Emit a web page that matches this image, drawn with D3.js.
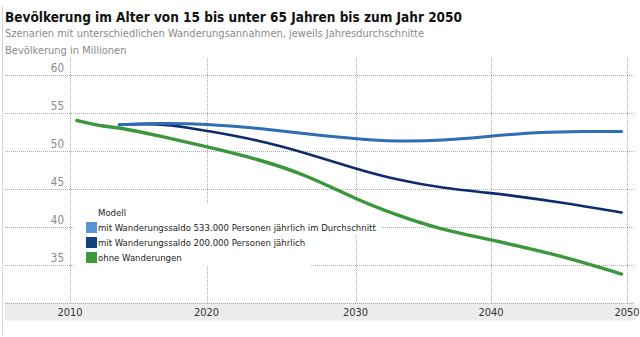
<!DOCTYPE html>
<html>
<head>
<meta charset="utf-8">
<script src="https://cdn.jsdelivr.net/npm/d3@7"></script>
<style>
  body { margin: 0; background: #fff; }
  svg { display: block; font-family: "DejaVu Sans Condensed", "DejaVu Sans", Verdana, sans-serif; font-stretch: condensed; }
</style>
</head>
<body>
<div id="plot"></div>
<script>
const yearsHigh = [2013.6, 2016.5, 2020, 2023.4, 2026.7, 2030, 2033, 2036.4, 2040, 2043.1, 2045.6, 2049.6];
const valuesHigh = [53.38, 53.6, 53.5, 52.95, 52.2, 51.54, 51.18, 51.3, 51.9, 52.37, 52.5, 52.5];

const yearsLow = [2013.6, 2016.5, 2018.8, 2020, 2023.4, 2026.7, 2030, 2033, 2036.4, 2040, 2041.4, 2045.1, 2049.6];
const valuesLow = [53.38, 53.58, 52.95, 52.6, 51.4, 49.66, 47.6, 46.15, 45.05, 44.4, 44.1, 43.2, 41.84];

const yearsNone = [2010.5, 2012.6, 2013.7, 2016.6, 2020, 2023.4, 2026.7, 2030, 2033, 2035.9, 2040, 2045.1, 2049.6];
const valuesNone = [53.95, 53.1, 53.0, 51.9, 50.5, 48.9, 46.8, 43.6, 41.54, 39.8, 38.25, 36.2, 33.74];

const seriesNames = [
  "mit Wanderungssaldo 533.000 Personen jährlich im Durchschnitt",
  "mit Wanderungssaldo 200.000 Personen jährlich",
  "ohne Wanderungen"
];
const lineColors = ["#2f6db6", "#0c2c6b", "#3b973b"];
const swatchColors = ["#5596d6", "#10427f", "#3a9a3c"];
const lineWidths = [3, 2.6, 3.4];

const xTicks = [2010, 2020, 2030, 2040, 2050];
const yTicks = [35, 40, 45, 50, 55, 60];

const width = 640, height = 337;

const svg = d3.select("#plot").append("svg")
  .attr("width", width)
  .attr("height", height);

// x-Achse: Abstände der Jahrzehnte wie im Original
const x = d3.scaleLinear()
  .domain(xTicks)
  .range([70, 206.5, 355.5, 491, 627]);

const y = d3.scaleLinear()
  .domain([30, 60])
  .range([302.5, 74.5]);

const plotTop = 58, plotLeft = 5, plotRight = 635;

// Rahmen links
svg.append("line")
  .attr("x1", 2.5).attr("x2", 2.5)
  .attr("y1", 6).attr("y2", 335)
  .attr("stroke", "#d4d4d4");

// Titel
svg.append("text")
  .attr("x", 5).attr("y", 22)
  .attr("font-size", 13.5).attr("font-weight", "bold")
  .attr("fill", "#111")
  .text("Bevölkerung im Alter von 15 bis unter 65 Jahren bis zum Jahr 2050");

svg.append("text")
  .attr("x", 5).attr("y", 36.5)
  .attr("font-size", 11)
  .attr("fill", "#8a8a8a")
  .text("Szenarien mit unterschiedlichen Wanderungsannahmen, jeweils Jahresdurchschnitte");

svg.append("text")
  .attr("x", 5).attr("y", 53.5)
  .attr("font-size", 11)
  .attr("fill", "#8a8a8a")
  .text("Bevölkerung in Millionen");

// x-Achsenband
svg.append("rect")
  .attr("x", plotLeft).attr("y", y(30))
  .attr("width", plotRight - plotLeft).attr("height", 18)
  .attr("fill", "#ececec");

// Gitter
svg.append("g")
  .selectAll("line")
  .data(yTicks.concat([30]))
  .enter().append("line")
  .attr("x1", plotLeft).attr("x2", plotRight)
  .attr("y1", d => Math.round(y(d)) + 0.5)
  .attr("y2", d => Math.round(y(d)) + 0.5)
  .attr("stroke", "#aaa")
  .attr("stroke-dasharray", "1,1");

svg.append("g")
  .selectAll("line")
  .data(xTicks)
  .enter().append("line")
  .attr("x1", d => Math.round(x(d)) + 0.5)
  .attr("x2", d => Math.round(x(d)) + 0.5)
  .attr("y1", plotTop).attr("y2", y(30))
  .attr("stroke", "#aaa")
  .attr("stroke-dasharray", "1,1");

// y-Beschriftung
svg.append("g")
  .selectAll("text")
  .data(yTicks)
  .enter().append("text")
  .attr("x", 64)
  .attr("y", d => y(d) - 3)
  .attr("text-anchor", "end")
  .attr("font-size", 11.5)
  .attr("fill", "#8a8a8a")
  .text(d => d);

// x-Beschriftung
svg.append("g")
  .selectAll("text")
  .data(xTicks)
  .enter().append("text")
  .attr("x", d => x(d))
  .attr("y", y(30) + 13.5)
  .attr("text-anchor", "middle")
  .attr("font-size", 11)
  .attr("fill", "#333")
  .text(d => d);

// Legende: Hintergrund unter den Linien, Text darüber
const legX = 86, legY0 = 212, rowH = 15;
const bgLayer = svg.append("g");
const lineLayer = svg.append("g");
const legend = svg.append("g").attr("font-size", 9.5).attr("fill", "#222");

const title = legend.append("text")
  .attr("x", legX + 12).attr("y", legY0 + 3.5)
  .text("Modell");

const labels = legend.selectAll(".lab")
  .data(seriesNames)
  .enter().append("text")
  .attr("class", "lab")
  .attr("x", legX + 12)
  .attr("y", (d, i) => legY0 + (i + 1) * rowH + 3.5)
  .text(d => d);

const w = labels.nodes().map(n => n.getComputedTextLength());
const wTitle = title.node().getComputedTextLength();
const blocks = [[Math.max(wTitle, w[0]), legY0 - 8], [Math.max(w[1], w[2]), legY0 + 1.5 * rowH + 0.5]];
blocks.forEach(b => {
  bgLayer.append("rect")
    .attr("x", 75).attr("y", b[1])
    .attr("width", legX + 12 + b[0] + 6 - 75)
    .attr("height", 31)
    .attr("fill", "#fff");
});

legend.selectAll(".sw")
  .data(swatchColors)
  .enter().append("rect")
  .attr("class", "sw")
  .attr("x", legX)
  .attr("y", (d, i) => legY0 + (i + 1) * rowH - 5)
  .attr("width", 11).attr("height", 11)
  .attr("fill", d => d);

// Linien
const series = [
  { years: yearsHigh, values: valuesHigh },
  { years: yearsLow, values: valuesLow },
  { years: yearsNone, values: valuesNone }
];

const line = d3.line()
  .x(d => x(d[0]))
  .y(d => y(d[1]))
  .curve(d3.curveBasis);

// zuerst grün, dann dunkelblau, dann blau oben
[2, 1, 0].forEach(i => {
  const s = series[i];
  lineLayer.append("path")
    .datum(s.years.map((yr, j) => [yr, s.values[j]]))
    .attr("d", line)
    .attr("fill", "none")
    .attr("stroke", lineColors[i])
    .attr("stroke-width", lineWidths[i])
    .attr("stroke-linecap", "round")
    .attr("stroke-linejoin", "round");
});
</script>
</body>
</html>
